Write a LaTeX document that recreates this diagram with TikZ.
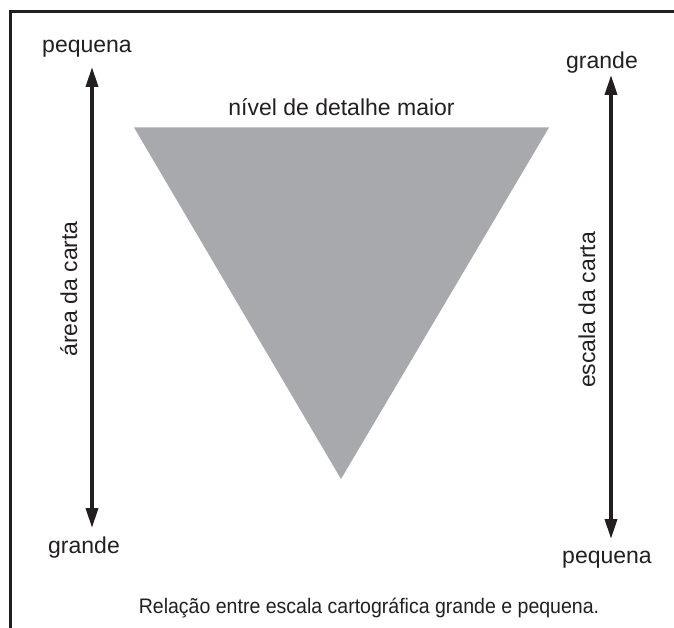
\documentclass[tikz,border=0pt]{standalone}
\usepackage{fontspec}
\setmainfont{Liberation Sans}
\newfontfamily\captionfont[FakeStretch=0.93]{Liberation Sans}
\usetikzlibrary{positioning, calc, arrows.meta}
\definecolor{detailgray}{HTML}{A7A9AC}
\definecolor{inkblack}{HTML}{231F20}
\tikzset{
	scaleaxis/.style={line width=3.5pt, draw=inkblack, {Triangle[length=20pt, width=12pt]}-{Triangle[length=20pt, width=12pt]}},
	endlabel/.style={anchor=base, inner sep=0pt, text=inkblack, font=\fontsize{23}{27}\selectfont},
	axislabel/.style={endlabel, rotate=90},
}

\begin{document}
\begin{tikzpicture}[x=1pt, y=-1pt]
	\useasboundingbox (0,0) rectangle (674,628);
	\draw[line width=3.5pt, inkblack, line join=miter] (674,11.7) -- (10.3,11.7) -- (10.3,628);

	\coordinate (TL) at (134,127.5);
	\coordinate (TR) at (549,127.5);
	\coordinate (TB) at (341,479);
	\fill[detailgray] (TL) -- (TR) -- (TB) -- cycle;
	\node[endlabel] (detail) at ($(TL)!0.5!(TR) + (0,-11.5)$) {nível de detalhe maior};

	\coordinate (areatop) at (92,67);
	\coordinate (areabottom) at (92,528);
	\draw[scaleaxis] (areatop) -- (areabottom);
	\node[endlabel] (areasmall) at (87,53) {pequena};
	\node[endlabel] (arealarge) at (84,553) {grande};
	\node[axislabel] (area) at (77,289) {área da carta};

	\coordinate (scaletop) at (611,75);
	\coordinate (scalebottom) at (611,539);
	\draw[scaleaxis] (scaletop) -- (scalebottom);
	\node[endlabel] (scalelarge) at (602,69) {grande};
	\node[endlabel] (scalesmall) at (607,563) {pequena};
	\node[axislabel] (scale) at (595,310) {escala da carta};

	\node[anchor=base, inner sep=0pt, text=inkblack, font=\captionfont\fontsize{21}{25}\selectfont] (caption) at (369,613) {Relação entre escala cartográfica grande e pequena.};
\end{tikzpicture}
\end{document}
